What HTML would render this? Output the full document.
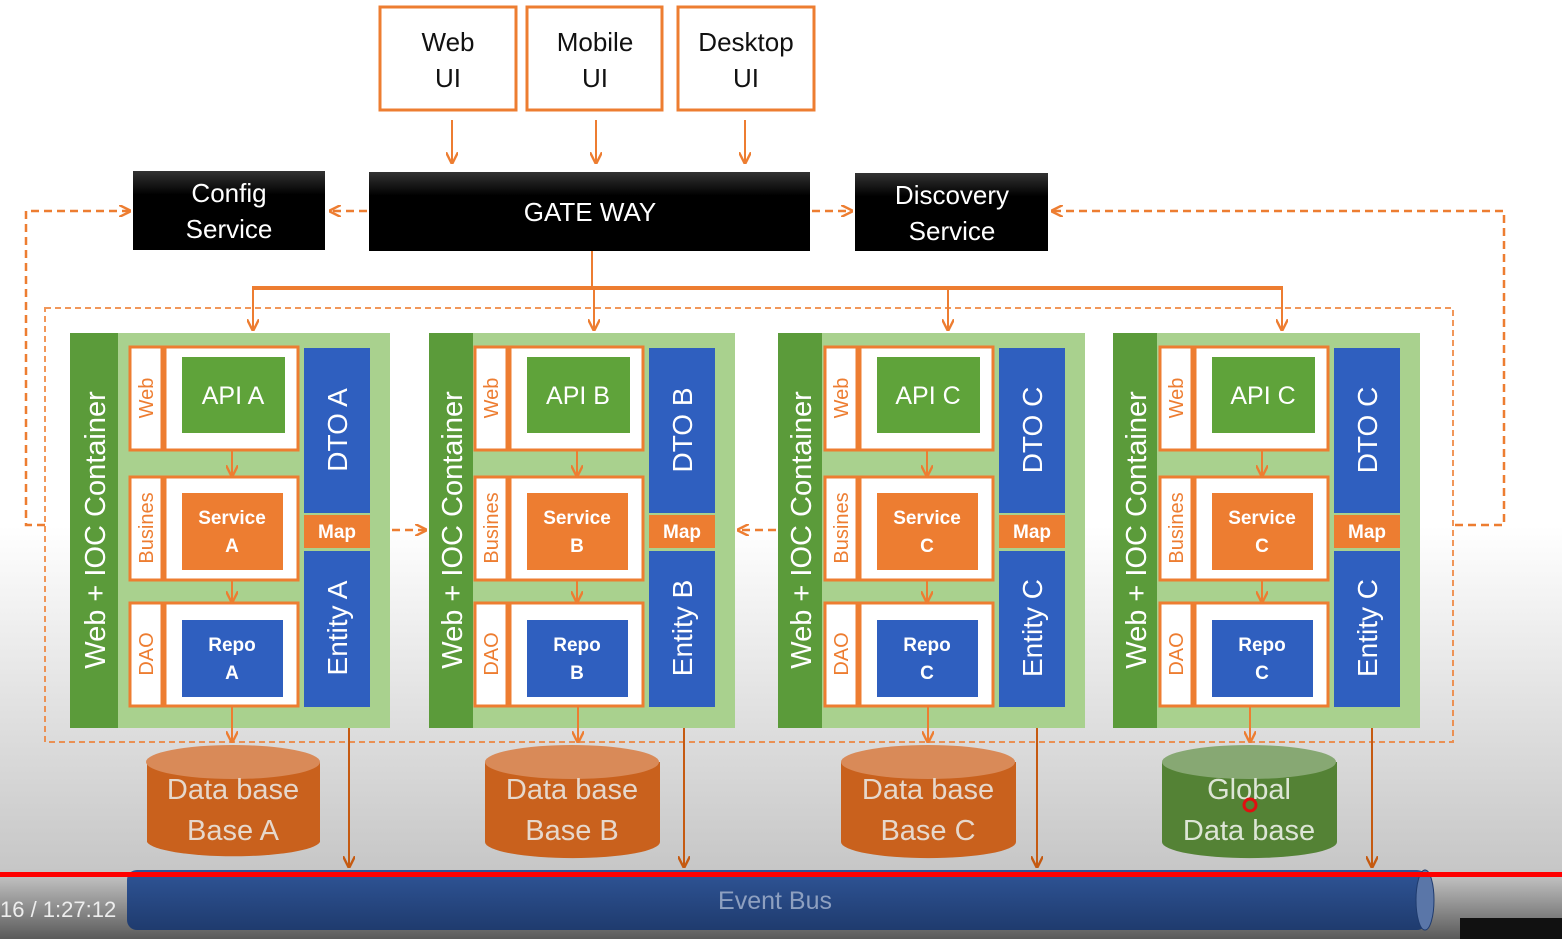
<!DOCTYPE html>
<html><head><meta charset="utf-8"><style>
html,body{margin:0;padding:0;width:1562px;height:939px;overflow:hidden}
svg{display:block;font-family:"Liberation Sans",sans-serif}
</style></head><body>
<svg width="1562" height="939" viewBox="0 0 1562 939" xmlns="http://www.w3.org/2000/svg">
<defs>
<linearGradient id="bg" x1="0" y1="0" x2="0" y2="1">
<stop offset="0" stop-color="#ffffff"/><stop offset="0.56" stop-color="#ffffff"/>
<stop offset="0.93" stop-color="#c6c6c6"/><stop offset="1" stop-color="#5a5a5a"/></linearGradient>
<linearGradient id="bk" x1="0" y1="0" x2="0" y2="1"><stop offset="0" stop-color="#333"/><stop offset="0.3" stop-color="#000"/><stop offset="1" stop-color="#000"/></linearGradient>
<linearGradient id="bus" x1="0" y1="0" x2="0" y2="1"><stop offset="0" stop-color="#2f5597"/><stop offset="1" stop-color="#1f3b6e"/></linearGradient>
<marker id="ar" viewBox="0 0 10 10" refX="9" refY="5" markerWidth="12" markerHeight="12" markerUnits="userSpaceOnUse" orient="auto"><path d="M0,0 L10,5 L0,10" fill="none" stroke="#ed7d31" stroke-width="2"/></marker>
<marker id="ar2" viewBox="0 0 10 10" refX="9" refY="5" markerWidth="12" markerHeight="12" markerUnits="userSpaceOnUse" orient="auto"><path d="M0,0 L10,5 L0,10" fill="none" stroke="#c55a11" stroke-width="2"/></marker>
</defs>
<rect width="1562" height="939" fill="url(#bg)"/>

<!-- UI boxes -->
<g fill="#fff" stroke="#ed7d31" stroke-width="3">
<rect x="380" y="7" width="136" height="103"/><rect x="527" y="7" width="135" height="103"/><rect x="678" y="7" width="136" height="103"/></g>
<g font-size="26" fill="#111" text-anchor="middle">
<text x="448" y="51">Web</text><text x="448" y="87">UI</text>
<text x="595" y="51">Mobile</text><text x="595" y="87">UI</text>
<text x="746" y="51">Desktop</text><text x="746" y="87">UI</text></g>
<g stroke="#ed7d31" stroke-width="2" marker-end="url(#ar)">
<line x1="452" y1="120" x2="452" y2="163"/><line x1="596" y1="120" x2="596" y2="163"/><line x1="745" y1="120" x2="745" y2="163"/></g>

<!-- black boxes -->
<rect x="133" y="171" width="192" height="79" fill="url(#bk)"/>
<rect x="369" y="172" width="441" height="79" fill="url(#bk)"/>
<rect x="855" y="173" width="193" height="78" fill="url(#bk)"/>
<g font-size="26" fill="#fff" text-anchor="middle">
<text x="229" y="202">Config</text><text x="229" y="238">Service</text>
<text x="590" y="221">GATE WAY</text>
<text x="952" y="204">Discovery</text><text x="952" y="240">Service</text></g>

<!-- dashed -->
<g fill="none" stroke="#ed7d31" stroke-width="2.5" stroke-dasharray="8,5">
<line x1="367" y1="211" x2="330" y2="211" marker-end="url(#ar)"/>
<line x1="812" y1="211" x2="852" y2="211" marker-end="url(#ar)"/>
<polyline points="45,525 26,525 26,211 130,211" marker-end="url(#ar)"/>
<polyline points="1455,525 1504,525 1504,211 1052,211" marker-end="url(#ar)"/>
<line x1="392" y1="530" x2="426" y2="530" marker-end="url(#ar)"/>
<line x1="776" y1="530" x2="738" y2="530" marker-end="url(#ar)"/>
</g>
<rect x="45" y="308" width="1408" height="434" fill="none" stroke="#ed7d31" stroke-width="2" stroke-dasharray="6,4" opacity="0.8"/>

<!-- tree -->
<line x1="592" y1="251" x2="592" y2="288" stroke="#ed7d31" stroke-width="2"/>
<line x1="252" y1="288" x2="1283" y2="288" stroke="#ed7d31" stroke-width="4"/>
<g stroke="#ed7d31" stroke-width="2" marker-end="url(#ar)">
<line x1="253" y1="288" x2="253" y2="330"/><line x1="594" y1="288" x2="594" y2="330"/>
<line x1="948" y1="288" x2="948" y2="330"/><line x1="1282" y1="288" x2="1282" y2="330"/></g>

<!-- outer containers -->
<g fill="#a9d18e">
<rect x="70" y="333" width="320" height="395"/><rect x="429" y="333" width="306" height="395"/>
<rect x="778" y="333" width="307" height="395"/><rect x="1113" y="333" width="307" height="395"/></g>
<g fill="#5b9b3a">
<rect x="70" y="333" width="48" height="395"/><rect x="429" y="333" width="44" height="395"/>
<rect x="778" y="333" width="44" height="395"/><rect x="1113" y="333" width="44" height="395"/></g>
<g font-size="29" fill="#fff" text-anchor="middle">
<text transform="translate(105,530) rotate(-90)">Web + IOC  Container</text>
<text transform="translate(462,530) rotate(-90)">Web + IOC  Container</text>
<text transform="translate(811,530) rotate(-90)">Web + IOC  Container</text>
<text transform="translate(1146,530) rotate(-90)">Web + IOC  Container</text></g>

<g id="blkA">
<g fill="#fff" stroke="#ed7d31" stroke-width="3">
<rect x="130" y="347" width="32" height="103"/><rect x="165" y="347" width="133" height="103"/>
<rect x="130" y="477" width="32" height="103"/><rect x="165" y="477" width="133" height="103"/>
<rect x="130" y="603" width="32" height="103"/><rect x="165" y="603" width="133" height="103"/></g>
<rect x="182" y="357" width="103" height="76" fill="#5fa33a"/>
<rect x="182" y="493" width="101" height="77" fill="#ed7d31"/>
<rect x="182" y="620" width="101" height="77" fill="#2f5fbf"/>
<rect x="304" y="348" width="66" height="165" fill="#2f5fbf"/>
<rect x="304" y="515" width="66" height="33" fill="#ed7d31"/>
<rect x="304" y="551" width="66" height="156" fill="#2f5fbf"/>
<g stroke="#ed7d31" stroke-width="2" marker-end="url(#ar)">
<line x1="232" y1="450" x2="232" y2="476"/><line x1="232" y1="580" x2="232" y2="602"/></g>
<g font-size="20" fill="#ed7d31" text-anchor="middle">
<text transform="translate(153,398) rotate(-90)">Web</text>
<text transform="translate(153,528) rotate(-90)">Busines</text>
<text transform="translate(153,654) rotate(-90)">DAO</text></g>
</g>
<use href="#blkA" x="345"/><use href="#blkA" x="695"/><use href="#blkA" x="1030"/>

<g font-size="25" fill="#fff" text-anchor="middle">
<text x="233" y="404">API A</text><text x="578" y="404">API B</text><text x="928" y="404">API C</text><text x="1263" y="404">API C</text></g>
<g font-size="19" font-weight="bold" fill="#fff" text-anchor="middle">
<text x="232" y="524">Service</text><text x="232" y="552">A</text>
<text x="577" y="524">Service</text><text x="577" y="552">B</text>
<text x="927" y="524">Service</text><text x="927" y="552">C</text>
<text x="1262" y="524">Service</text><text x="1262" y="552">C</text>
<text x="232" y="651">Repo</text><text x="232" y="679">A</text>
<text x="577" y="651">Repo</text><text x="577" y="679">B</text>
<text x="927" y="651">Repo</text><text x="927" y="679">C</text>
<text x="1262" y="651">Repo</text><text x="1262" y="679">C</text>
<text x="337" y="538">Map</text><text x="682" y="538">Map</text><text x="1032" y="538">Map</text><text x="1367" y="538">Map</text></g>
<g font-size="28" fill="#fff" text-anchor="middle">
<text transform="translate(347,430) rotate(-90)">DTO A</text><text transform="translate(347,628) rotate(-90)">Entity A</text>
<text transform="translate(692,430) rotate(-90)">DTO B</text><text transform="translate(692,628) rotate(-90)">Entity B</text>
<text transform="translate(1042,430) rotate(-90)">DTO C</text><text transform="translate(1042,628) rotate(-90)">Entity C</text>
<text transform="translate(1377,430) rotate(-90)">DTO C</text><text transform="translate(1377,628) rotate(-90)">Entity C</text></g>

<!-- db arrows -->
<g stroke="#ed7d31" stroke-width="2" marker-end="url(#ar)">
<line x1="232" y1="706" x2="232" y2="742"/><line x1="578" y1="706" x2="578" y2="742"/>
<line x1="928" y1="706" x2="928" y2="742"/><line x1="1250" y1="706" x2="1250" y2="742"/></g>
<g stroke="#c55a11" stroke-width="2" marker-end="url(#ar2)">
<line x1="349" y1="728" x2="349" y2="867"/><line x1="684" y1="728" x2="684" y2="867"/>
<line x1="1037" y1="728" x2="1037" y2="867"/><line x1="1372" y1="728" x2="1372" y2="867"/></g>

<!-- databases -->
<g>
<path d="M147,762 L147,842 A87,16 0 0 0 320,842 L320,762 Z" fill="#c9611d"/><ellipse cx="233" cy="762" rx="87" ry="17" fill="#d98a58"/>
<path d="M485,762 L485,842 A87,16 0 0 0 660,842 L660,762 Z" fill="#c9611d"/><ellipse cx="572" cy="762" rx="87" ry="17" fill="#d98a58"/>
<path d="M841,762 L841,842 A87,16 0 0 0 1016,842 L1016,762 Z" fill="#c9611d"/><ellipse cx="928" cy="762" rx="87" ry="17" fill="#d98a58"/>
<path d="M1162,762 L1162,842 A87,16 0 0 0 1337,842 L1337,762 Z" fill="#548235"/><ellipse cx="1249" cy="762" rx="87" ry="17" fill="#87a873"/>
</g>
<g font-size="29" fill="#e6d8cc" text-anchor="middle">
<text x="233" y="799">Data base</text><text x="233" y="840">Base A</text>
<text x="572" y="799">Data base</text><text x="572" y="840">Base B</text>
<text x="928" y="799">Data base</text><text x="928" y="840">Base C</text>
<text x="1249" y="799" fill="#dde5d6">Global</text><text x="1249" y="840" fill="#dde5d6">Data base</text></g>
<circle cx="1250" cy="805" r="6" fill="none" stroke="#e01010" stroke-width="3"/>

<!-- event bus -->
<rect x="127" y="870" width="1300" height="60" rx="10" fill="url(#bus)"/>
<ellipse cx="1425" cy="900" rx="9" ry="30" fill="#5a76a8" stroke="#1f3b6e"/>
<text x="775" y="909" font-size="25" fill="#8ea0c0" text-anchor="middle">Event Bus</text>
<rect x="0" y="872" width="1562" height="5" fill="#ff0000"/>
<text x="0" y="917" font-size="22" fill="#eee">16 / 1:27:12</text>
<rect x="1460" y="918" width="102" height="21" fill="#111"/>
</svg>
</body></html>
